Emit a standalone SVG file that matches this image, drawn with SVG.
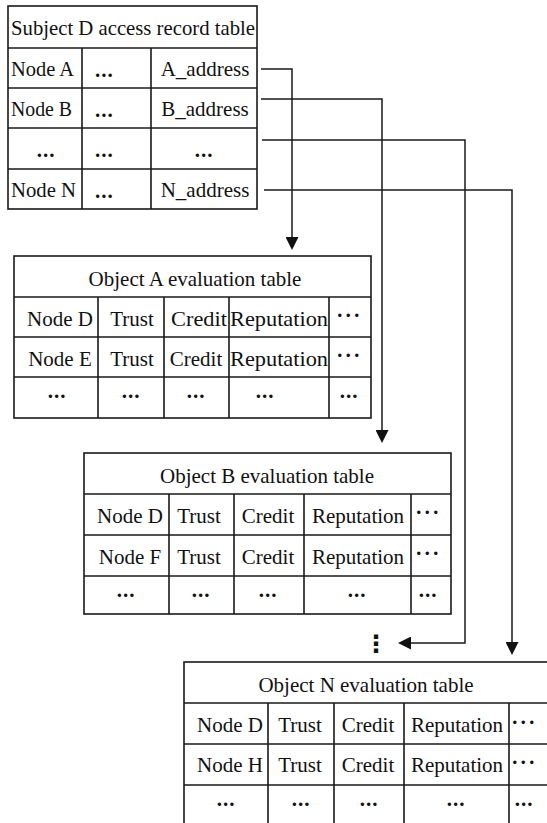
<svg xmlns="http://www.w3.org/2000/svg" width="547" height="823" viewBox="0 0 547 823">
<style>
.bg{fill:#fff}
.tb{fill:none;stroke:#1a1a1a;stroke-width:1.6}
.t{font-family:"Liberation Serif","Times New Roman",serif;font-size:21px;fill:#111}
.m{text-anchor:middle}
.d{font-family:"Liberation Serif","Times New Roman",serif;font-size:21px;font-weight:bold;fill:#111;letter-spacing:1px}
.c{font-family:"Liberation Serif","Times New Roman",serif;font-size:21px;font-weight:bold;fill:#111;text-anchor:middle;letter-spacing:1.5px}
.cn{fill:none;stroke:#1a1a1a;stroke-width:1.5;marker-end:url(#ah)}
</style>
<defs>
<marker id="ah" markerUnits="userSpaceOnUse" markerWidth="14" markerHeight="13" refX="0" refY="6.5" orient="auto">
<path d="M0,0 L13,6.5 L0,13 z" fill="#111"/>
</marker>
</defs>
<rect class="bg" x="0" y="0" width="547" height="823"/>

<g id="subject-table">
<rect class="tb" x="8" y="6" width="249" height="203"/>
<path class="tb" d="M8,48H257M8,88H257M8,128H257M8,169H257M82,48V209M151,48V209"/>
<text class="t" x="11" y="35" textLength="244" lengthAdjust="spacingAndGlyphs">Subject D access record table</text>
<text class="t" x="11" y="76" textLength="63" lengthAdjust="spacingAndGlyphs">Node A</text>
<text class="d" x="95" y="77">...</text>
<text class="t m" x="205" y="76">A_address</text>
<text class="t" x="11" y="116" textLength="61" lengthAdjust="spacingAndGlyphs">Node B</text>
<text class="d" x="95" y="117">...</text>
<text class="t m" x="205" y="116">B_address</text>
<text class="d m" x="46" y="157">...</text>
<text class="d" x="95" y="157">...</text>
<text class="d m" x="204" y="157">...</text>
<text class="t" x="11" y="197" textLength="65" lengthAdjust="spacingAndGlyphs">Node N</text>
<text class="d" x="95" y="198">...</text>
<text class="t m" x="205" y="197">N_address</text>
</g>

<g id="object-a-table">
<rect class="tb" x="14" y="256" width="357" height="162"/>
<path class="tb" d="M14,297H371M14,337H371M14,377H371M98,297V418M164,297V418M229,297V418M329,297V418"/>
<text class="t m" x="195" y="286">Object A evaluation table</text>
<text class="t m" x="60" y="326">Node D</text>
<text class="t m" x="132" y="326">Trust</text>
<text class="t m" x="199" y="326" textLength="56" lengthAdjust="spacingAndGlyphs">Credit</text>
<text class="t m" x="279" y="326" textLength="98" lengthAdjust="spacingAndGlyphs">Reputation</text>
<text class="c" x="349" y="322">···</text>
<text class="t m" x="60" y="366">Node E</text>
<text class="t m" x="132" y="366">Trust</text>
<text class="t m" x="196" y="366">Credit</text>
<text class="t m" x="279" y="366" textLength="98" lengthAdjust="spacingAndGlyphs">Reputation</text>
<text class="c" x="349" y="362">···</text>
<text class="d m" x="57" y="398">...</text>
<text class="d m" x="131" y="398">...</text>
<text class="d m" x="196" y="398">...</text>
<text class="d m" x="265" y="398">...</text>
<text class="d m" x="349" y="398">...</text>
</g>

<g id="object-b-table">
<rect class="tb" x="84" y="453" width="367" height="161"/>
<path class="tb" d="M84,494H451M84,535H451M84,576H451M169,494V614M234,494V614M304,494V614M411,494V614"/>
<text class="t m" x="267" y="483">Object B evaluation table</text>
<text class="t m" x="130" y="523">Node D</text>
<text class="t m" x="199" y="523">Trust</text>
<text class="t m" x="268" y="523">Credit</text>
<text class="t m" x="358" y="523">Reputation</text>
<text class="c" x="428" y="519">···</text>
<text class="t m" x="130" y="564">Node F</text>
<text class="t m" x="199" y="564">Trust</text>
<text class="t m" x="268" y="564">Credit</text>
<text class="t m" x="358" y="564">Reputation</text>
<text class="c" x="428" y="560">···</text>
<text class="d m" x="126" y="597">...</text>
<text class="d m" x="201" y="597">...</text>
<text class="d m" x="268" y="597">...</text>
<text class="d m" x="357" y="597">...</text>
<text class="d m" x="428" y="597">...</text>
</g>

<g id="object-n-table">
<rect class="tb" x="184" y="662" width="364" height="164"/>
<path class="tb" d="M184,703H548M184,744H548M184,785H548M268,703V826M334,703V826M404,703V826M509,703V826"/>
<text class="t m" x="366" y="692">Object N evaluation table</text>
<text class="t m" x="230" y="732">Node D</text>
<text class="t m" x="300" y="732">Trust</text>
<text class="t m" x="368" y="732">Credit</text>
<text class="t m" x="457" y="732">Reputation</text>
<text class="c" x="524" y="729">···</text>
<text class="t m" x="230" y="772">Node H</text>
<text class="t m" x="300" y="772">Trust</text>
<text class="t m" x="368" y="772">Credit</text>
<text class="t m" x="457" y="772">Reputation</text>
<text class="c" x="524" y="769">···</text>
<text class="d m" x="226" y="806">...</text>
<text class="d m" x="301" y="806">...</text>
<text class="d m" x="369" y="806">...</text>
<text class="d m" x="456" y="806">...</text>
<text class="d m" x="524" y="806">...</text>
</g>

<g id="more-tables">
<text x="376" y="652" text-anchor="middle" font-family="DejaVu Sans, sans-serif" font-size="24" font-weight="bold" fill="#111">⋮</text>
</g>

<g id="connectors">
<path class="cn" d="M261,69H292V237"/>
<path class="cn" d="M261,99H382V430"/>
<path class="cn" d="M262,140H465V643H411"/>
<path class="cn" d="M264,190H512V642"/>
</g>
</svg>
